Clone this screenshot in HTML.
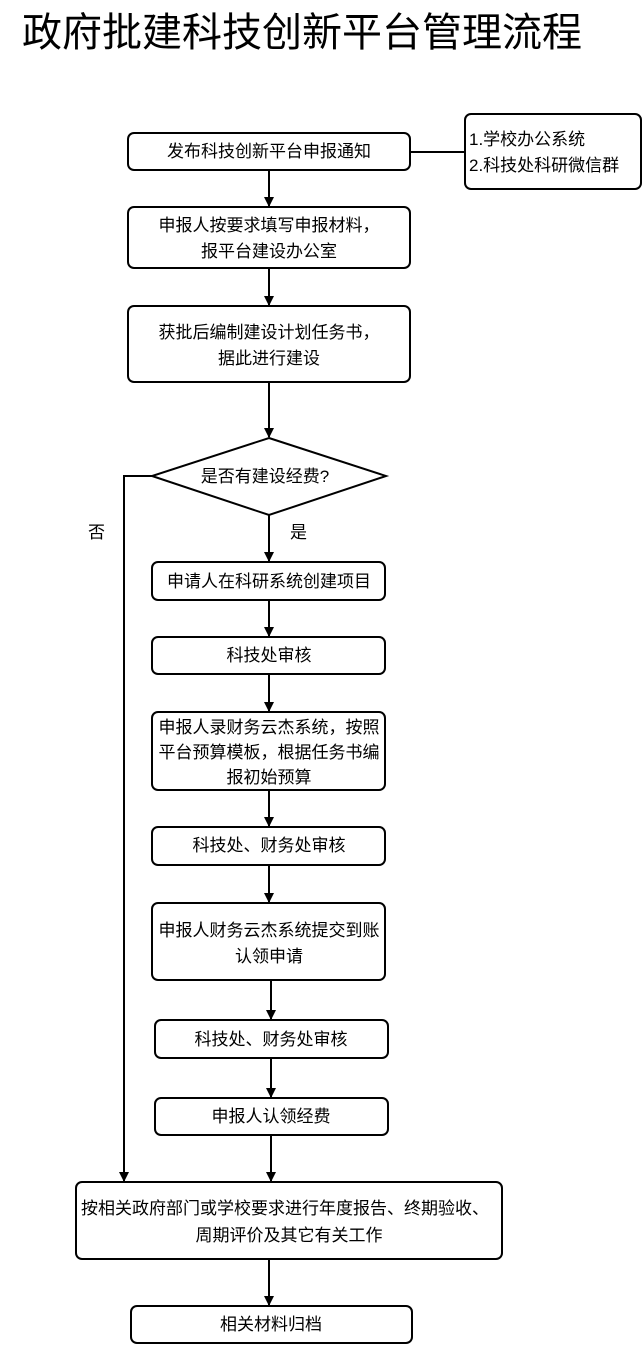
<!DOCTYPE html>
<html><head><meta charset="utf-8">
<style>
html,body{margin:0;padding:0;background:#fff;}
svg{display:block;}
text{font-family:"Liberation Sans","Noto Sans CJK SC",sans-serif;fill:#000;}
</style></head><body>
<svg width="643" height="1348" viewBox="0 0 643 1348" xmlns="http://www.w3.org/2000/svg">
<defs>
<marker id="a" markerWidth="10" markerHeight="10" refX="9" refY="5" orient="auto" markerUnits="userSpaceOnUse">
<path d="M0,0 L10,5 L0,10 z" fill="#000"/>
</marker>
</defs>
<text x="22" y="46" font-size="40">政府批建科技创新平台管理流程</text>
<g fill="none" stroke="#000" stroke-width="2">
<rect x="128" y="133" width="282" height="37" rx="6"/>
<rect x="465" y="114" width="176" height="75" rx="6"/>
<line x1="410" y1="152" x2="465" y2="152"/>
<rect x="128" y="207" width="282" height="61" rx="6"/>
<rect x="128" y="306" width="282" height="76" rx="6"/>
<polygon points="269,438 386,476 269,515 152,476"/>
<rect x="152" y="562" width="233" height="38" rx="6"/>
<rect x="152" y="637" width="233" height="37" rx="6"/>
<rect x="152" y="712" width="233" height="78" rx="6"/>
<rect x="152" y="827" width="233" height="38" rx="6"/>
<rect x="152" y="903" width="233" height="77" rx="6"/>
<rect x="155" y="1020" width="233" height="38" rx="6"/>
<rect x="155" y="1098" width="233" height="37" rx="6"/>
<rect x="76" y="1182" width="426" height="77" rx="6"/>
<rect x="131" y="1306" width="281" height="37" rx="6"/>
<g marker-end="url(#a)">
<line x1="269" y1="170" x2="269" y2="206"/>
<line x1="269" y1="268" x2="269" y2="305"/>
<line x1="269" y1="382" x2="269" y2="437"/>
<line x1="269" y1="515" x2="269" y2="561"/>
<line x1="269" y1="600" x2="269" y2="636"/>
<line x1="269" y1="674" x2="269" y2="711"/>
<line x1="269" y1="790" x2="269" y2="826"/>
<line x1="269" y1="865" x2="269" y2="902"/>
<line x1="271" y1="980" x2="271" y2="1019"/>
<line x1="271" y1="1058" x2="271" y2="1097"/>
<line x1="271" y1="1135" x2="271" y2="1181"/>
<line x1="269" y1="1259" x2="269" y2="1305"/>
<polyline points="152,476 124,476 124,1181"/>
</g>
</g>
<g font-size="17" text-anchor="middle">
<text x="269" y="157">发布科技创新平台申报通知</text>
<text x="269" y="231">申报人按要求填写申报材料，</text>
<text x="269" y="257">报平台建设办公室</text>
<text x="269" y="338">获批后编制建设计划任务书，</text>
<text x="269" y="364">据此进行建设</text>
<text x="265" y="482">是否有建设经费?</text>
<text x="269" y="587">申请人在科研系统创建项目</text>
<text x="269" y="661">科技处审核</text>
<text x="269" y="733">申报人录财务云杰系统，按照</text>
<text x="269" y="758">平台预算模板，根据任务书编</text>
<text x="269" y="783">报初始预算</text>
<text x="269" y="851">科技处、财务处审核</text>
<text x="269" y="936">申报人财务云杰系统提交到账</text>
<text x="269" y="962">认领申请</text>
<text x="271" y="1045">科技处、财务处审核</text>
<text x="271" y="1122">申报人认领经费</text>
<text x="285" y="1214">按相关政府部门或学校要求进行年度报告、终期验收、</text>
<text x="289" y="1241">周期评价及其它有关工作</text>
<text x="271" y="1330">相关材料归档</text>
</g>
<g font-size="17">
<text x="469" y="145">1.学校办公系统</text>
<text x="469" y="171">2.科技处科研微信群</text>
<text x="88" y="538">否</text>
<text x="290" y="538">是</text>
</g>
</svg>
</body></html>
